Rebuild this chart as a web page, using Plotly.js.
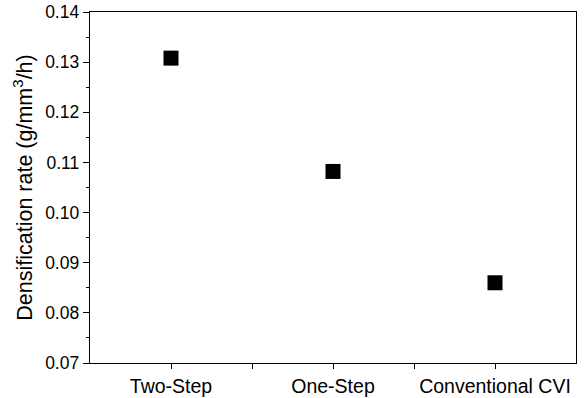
<!DOCTYPE html>
<html>
<head>
<meta charset="utf-8">
<script src="https://cdn.plot.ly/plotly-3.0.1.min.js"></script>
<style>html,body{margin:0;padding:0;background:#fff;}#chart{width:587px;height:398px;}</style>
</head>
<body>
<div id="chart"></div>
<script>
const categories = ["Two-Step", "One-Step", "Conventional CVI"];
const positions = [1, 2, 3];
const densificationRate = [0.1308, 0.1082, 0.0860];
const yTickVals = [0.07, 0.08, 0.09, 0.10, 0.11, 0.12, 0.13, 0.14];

const trace = {
  x: positions,
  y: densificationRate,
  type: "scatter",
  mode: "markers",
  marker: {symbol: "square", size: 15, color: "#000000", line: {width: 0}},
  hoverinfo: "x+y",
  showlegend: false
};

const layout = {
  width: 587,
  height: 398,
  margin: {l: 90, r: 11, t: 12, b: 35},
  paper_bgcolor: "#ffffff",
  plot_bgcolor: "#ffffff",
  font: {family: "Liberation Sans, Arial, sans-serif", color: "#000"},
  xaxis: {
    range: [0.5, 3.5],
    tickmode: "array",
    tickvals: positions,
    ticktext: categories,
    ticks: "outside",
    ticklen: 5,
    tickwidth: 1,
    tickcolor: "#000",
    minor: {tickmode: "array", tickvals: [1.5, 2.5], ticks: "outside", ticklen: 5, tickwidth: 1, tickcolor: "#000", showgrid: false},
    showline: true,
    linecolor: "#000",
    linewidth: 1.3,
    mirror: true,
    showgrid: false,
    zeroline: false,
    tickfont: {size: 19.5, color: "#000"}
  },
  yaxis: {
    range: [0.07, 0.14],
    tickmode: "array",
    tickvals: yTickVals,
    tickformat: ".2f",
    ticks: "outside",
    ticklen: 6,
    tickwidth: 1,
    tickcolor: "#000",
    minor: {dtick: 0.005, tick0: 0.07, ticks: "outside", ticklen: 3, tickcolor: "#000", showgrid: false},
    showline: true,
    linecolor: "#000",
    linewidth: 1.3,
    mirror: true,
    showgrid: false,
    zeroline: false,
    tickfont: {size: 17.5, color: "#000"},
    title: {text: "Densification rate (g/mm<sup>3</sup>/h)", font: {size: 21.5, color: "#000"}, standoff: 6}
  }
};

Plotly.newPlot("chart", [trace], layout, {displayModeBar: false, staticPlot: true});
</script>
</body>
</html>
